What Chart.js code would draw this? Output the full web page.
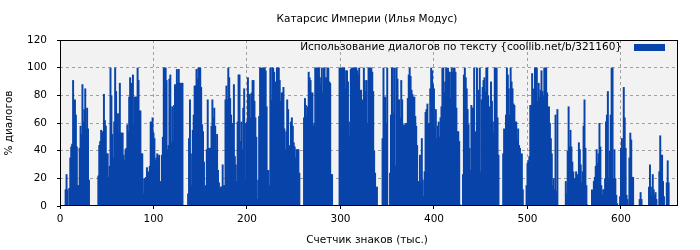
<!DOCTYPE html>
<html>
<head>
<meta charset="utf-8">
<script src="https://cdn.jsdelivr.net/npm/chart.js@4"></script>
<style>
  html, body { margin: 0; padding: 0; background: #fff; }
  canvas { display: block; }
</style>
</head>
<body>
<canvas id="chart" width="700" height="250"></canvas>
<script>
const chartTitle = "Катарсис Империи (Илья Модус)";
const seriesLabel = "Использование диалогов по тексту {coollib.net/b/321160}";
const xTitle = "Счетчик знаков (тыс.)";
const yTitle = "% диалогов";
const xTicks = [0, 100, 200, 300, 400, 500, 600];
const yTicks = [0, 20, 40, 60, 80, 100, 120];

// % of dialogue per 1000 characters, one value per thousand (0..660)
const dialogShare = [
  0,0,0,0,0,0,12,23,12,0,13,35,43,45,91,52,77,66,43,15,15,
  42,58,52,88,61,70,85,56,71,56,19,0,0,0,0,
  0,0,0,0,0,22,44,47,55,54,40,81,62,58,38,38,
  21,29,100,80,52,35,61,100,83,53,67,53,89,53,53,53,
  37,33,41,42,59,54,79,93,85,89,95,59,79,79,79,
  100,91,69,69,38,38,9,20,20,21,28,24,25,29,61,61,
  64,53,49,33,35,38,35,37,18,0,37,50,100,100,100,
  91,41,44,92,95,46,72,48,73,88,85,99,89,99,89,89,
  89,89,0,0,0,0,0,9,49,77,38,15,55,66,87,87,
  99,92,100,100,100,86,59,54,32,11,15,41,77,42,42,
  42,58,77,64,71,58,40,52,26,17,12,14,14,30,15,15,
  77,87,77,100,93,78,66,50,60,88,36,30,18,61,95,95,
  47,61,41,71,85,19,60,61,93,81,81,64,82,91,91,
  76,64,50,5,19,65,100,97,100,100,100,100,98,72,26,26,
  15,100,77,100,100,97,90,88,100,100,100,91,76,82,82,
  86,56,41,54,77,70,40,44,61,64,58,46,43,35,41,41,
  41,24,0,0,0,0,64,78,73,65,72,97,93,91,82,82,
  58,60,100,100,100,100,100,93,88,100,82,100,100,93,93,
  100,100,90,89,23,23,0,0,0,0,0,0,0,100,100,100,
  100,100,100,85,98,98,90,61,50,99,100,100,100,100,100,100,
  98,95,100,83,84,44,77,100,91,83,91,60,100,100,100,
  100,97,83,40,24,11,14,0,0,0,0,0,49,100,79,79,
  60,100,0,0,24,66,100,100,67,100,29,100,92,77,77,
  64,91,77,58,59,55,60,59,78,95,100,94,84,81,79,79,
  65,58,44,18,11,37,17,49,19,7,25,68,70,74,60,60,
  85,100,98,88,85,56,70,49,58,61,50,64,72,100,100,
  82,90,100,93,100,97,97,78,100,97,100,100,97,71,54,54,
  47,1,0,0,23,95,100,93,85,70,59,42,26,73,71,71,
  100,54,37,100,59,84,100,25,77,86,91,93,83,100,100,
  80,72,59,90,76,61,53,100,100,100,64,37,0,0,0,0,
  38,56,53,66,100,95,85,66,100,90,85,74,73,61,61,
  48,56,44,42,26,38,12,0,0,0,15,31,33,36,73,73,
  96,74,85,100,100,100,76,89,79,84,98,83,80,100,100,100,
  82,68,72,60,49,38,15,20,12,66,11,70,0,0,0,
  0,0,0,0,0,18,9,40,72,43,55,43,32,25,20,20,
  25,0,23,46,41,30,17,25,58,77,42,15,1,0,0,0,
  0,12,8,18,21,29,41,31,38,60,43,15,8,12,12,
  20,61,66,83,20,40,66,100,100,20,41,20,8,2,0,0,
  7,42,49,41,86,64,42,8,5,0,35,53,48,21,21,
  0,0,0,0,0,0,5,10,5,0,0,0,0,0,0,0,
  14,30,14,8,23,12,8,10,5,0,0,25,51,37,37,
  18,7,0,0,17,33,17,0,0,0,0,0,0,0,0,0
];
const counter = dialogShare.map((_, i) => i);

const barColor = "#0944aa";
const gridColor = "#a0a0a0";
const textFont = '10.5px "DejaVu Sans"';

const frame = {
  id: "frame",
  beforeDraw(chart) {
    const { ctx, chartArea: a } = chart;
    ctx.save();
    ctx.fillStyle = "#f2f2f2";
    ctx.fillRect(a.left, a.top, a.right - a.left, a.bottom - a.top);
    ctx.restore();
  },
  afterDraw(chart) {
    const { ctx, chartArea: a } = chart;
    ctx.save();
    ctx.strokeStyle = "#000";
    ctx.lineWidth = 1;
    ctx.strokeRect(a.left + 0.5, a.top + 0.5, a.right - a.left - 1, a.bottom - a.top - 1);

    ctx.fillStyle = "#000";
    ctx.font = textFont;
    ctx.textAlign = "center";
    ctx.textBaseline = "middle";
    const cx = (a.left + a.right) / 2;
    ctx.fillText(chartTitle, cx - 2, 19);
    ctx.fillText(xTitle, cx - 2, 240);
    ctx.save();
    ctx.translate(9, (a.top + a.bottom) / 2);
    ctx.rotate(-Math.PI / 2);
    ctx.fillText(yTitle, 0, 0);
    ctx.restore();

    // legend, box on the right
    ctx.textAlign = "right";
    ctx.fillText(seriesLabel, a.right - 56, a.top + 7);
    ctx.fillStyle = barColor;
    ctx.fillRect(a.right - 44, a.top + 4, 31, 7);
    ctx.restore();
  }
};

Chart.defaults.font.family = '"DejaVu Sans"';
Chart.defaults.font.size = 10.5;
Chart.defaults.color = "#000";

new Chart(document.getElementById("chart"), {
  type: "bar",
  data: {
    datasets: [
      {
        label: seriesLabel,
        backgroundColor: barColor,
        borderWidth: 0,
        barPercentage: 2.1,
        categoryPercentage: 1,
        data: counter.map((x, i) => ({ x: x, y: dialogShare[i] })),
      },
    ],
  },
  options: {
    responsive: false,
    animation: false,
    layout: { padding: { top: 40, right: 22, left: 0, bottom: 0 } },
    plugins: { legend: { display: false }, tooltip: { enabled: false } },
    scales: {
      x: {
        type: "linear",
        min: 0,
        max: 661,
        offset: false,
        afterBuildTicks: (s) => { s.ticks = xTicks.map((v) => ({ value: v })); },
        afterFit: (s) => { s.height = 44; },
        ticks: { padding: 4, maxRotation: 0, autoSkip: false },
        grid: {
          offset: false,
          color: (c) => (c.tick && c.tick.value === 0 ? "transparent" : gridColor),
          tickColor: "#000",
          tickLength: 3,
        },
        border: { display: false, dash: [3, 3] },
      },
      y: {
        min: 0,
        max: 120,
        afterBuildTicks: (s) => { s.ticks = yTicks.map((v) => ({ value: v })); },
        afterFit: (s) => { s.width = 60; },
        ticks: { padding: 10 },
        grid: {
          color: (c) => (c.tick && (c.tick.value === 0 || c.tick.value === 120) ? "transparent" : gridColor),
          tickColor: "#000",
          tickLength: 3,
        },
        border: { display: false, dash: [3, 3] },
      },
    },
  },
  plugins: [frame],
});
</script>
</body>
</html>
